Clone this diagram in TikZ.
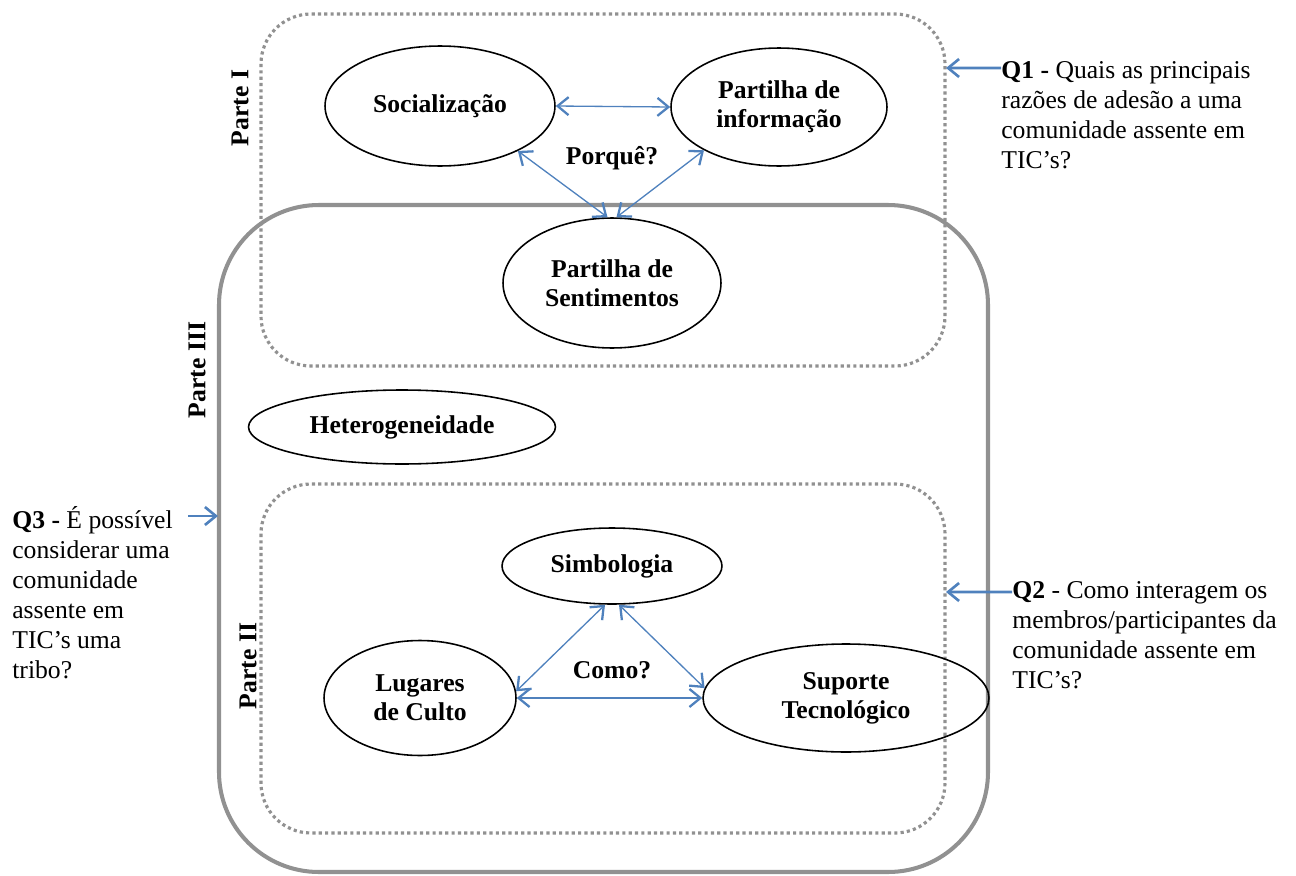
\documentclass[tikz,border=0pt]{standalone}
\usepackage{fontspec}
\setmainfont{Liberation Serif}
\usetikzlibrary{arrows.meta,positioning,shapes.geometric}
\definecolor{setaAzul}{RGB}{79,129,189}
\definecolor{caixaCinza}{RGB}{145,145,145}
\tikzset{
  conceito/.style={ellipse, draw=black, line width=0.9pt, inner sep=0pt, align=center,
    font=\bfseries\fontsize{14.6}{16.6}\selectfont},
  parteln/.style={draw=caixaCinza, line width=1.8pt, dash pattern=on 1.8pt off 1.8pt, rounded corners=1cm},
  triboln/.style={draw=caixaCinza, line width=2.3pt, rounded corners=2cm},
  ligacao/.style={{Straight Barb[length=2.2mm,width=3.6mm,line width=1.3pt]}-{Straight Barb[length=2.2mm,width=3.6mm,line width=1.3pt]},
    line width=0.75pt, setaAzul},
  pergunta/.style={-{Straight Barb[length=2.2mm,width=3.6mm]}, line width=1.5pt, setaAzul},
  questao/.style={font=\fontsize{14.6}{17.1}\selectfont, align=left, anchor=north west, inner sep=0pt},
  parte/.style={font=\bfseries\fontsize{14.6}{17}\selectfont, rotate=90, inner sep=0pt},
  rotulo/.style={font=\bfseries\fontsize{14.6}{17}\selectfont, inner sep=0pt},
}

\begin{document}
\begin{tikzpicture}[x=0.02cm, y=-0.02cm]
  \useasboundingbox (0,0) rectangle (1296,876);
  % caixas das partes
  \draw[parteln] (261,14) rectangle (945,366);
  \draw[parteln] (261,484) rectangle (945,833);
  \draw[triboln] (219,205) rectangle (988,872);
  \node[parte] (parteI) at (240,108) {Parte I};
  \node[parte] (parteIII) at (197,370) {Parte III};
  \node[parte] (parteII) at (248,666) {Parte II};
  % Parte I
  \node[conceito, minimum width=4.6cm, minimum height=2.4cm] (soc) at (440,106) {Socialização};
  \node[conceito, minimum width=4.32cm, minimum height=2.36cm] (info) at (779,107) {Partilha de\\informação};
  \node[conceito, minimum width=4.36cm, minimum height=2.6cm] (sent) at (612,283) {Partilha de\\Sentimentos};
  \node[rotulo] (porque) at (612,158) {Porquê?};
  \draw[ligacao] (soc.east) -- (info.west);
  \draw[ligacao] (soc.-30) -- ([xshift=-0.09cm]sent.north);
  \draw[ligacao] (info.-150) -- ([xshift=0.09cm]sent.north);
  % Parte III
  \node[conceito, minimum width=6.14cm, minimum height=1.48cm] (het) at (402,427) {Heterogeneidade};
  % Parte II
  \node[conceito, minimum width=4.4cm, minimum height=1.52cm] (simb) at (612,566) {Simbologia};
  \node[conceito, minimum width=3.84cm, minimum height=2.3cm] (lug) at (420,698) {Lugares\\de Culto};
  \node[conceito, minimum width=5.72cm, minimum height=2.16cm] (sup) at (846,698) {Suporte\\Tecnológico};
  \node[rotulo] (como) at (612,670) {Como?};
  \draw[ligacao] ([xshift=-0.14cm]simb.south) -- (lug.4);
  \draw[ligacao] ([xshift=0.14cm]simb.south) -- (sup.176);
  \draw[ligacao] (lug.east) -- (sup.west);
  % questoes
  \node[questao] (q1) at (1001,61) {\textbf{Q1 -} Quais as principais\\razões de adesão a uma\\comunidade assente em\\TIC’s?};
  \node[questao] (q2) at (1012,581) {\textbf{Q2} - Como interagem os\\membros/participantes da\\comunidade assente em\\TIC’s?};
  \node[questao] (q3) at (12,506) {\textbf{Q3 -} É possível\\considerar uma\\comunidade\\assente em\\TIC’s uma\\tribo?};
  \coordinate (p1) at (946,68);
  \coordinate (p2) at (946,592);
  \coordinate (p3) at (218,516);
  \draw[pergunta] ([yshift=-0.14cm]q1.north west) -- (p1);
  \draw[pergunta] ([yshift=-0.22cm]q2.north west) -- (p2);
  \draw[pergunta] (188,516) -- (p3);
\end{tikzpicture}
\end{document}
